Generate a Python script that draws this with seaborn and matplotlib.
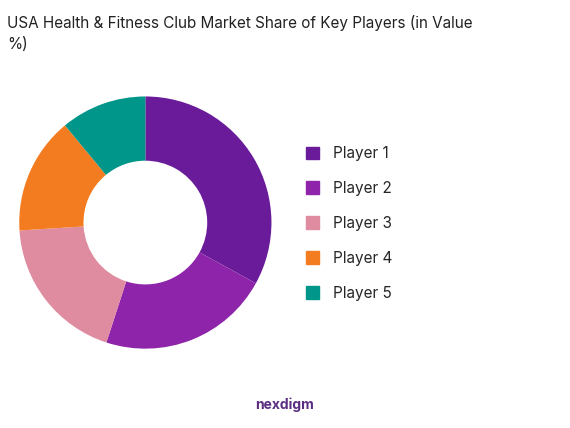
import matplotlib
matplotlib.use('Agg')
import matplotlib.pyplot as plt
import matplotlib.patches as mpatches
import seaborn as sns

players = ['Player 1', 'Player 2', 'Player 3', 'Player 4', 'Player 5']
shares = [33, 22, 19, 15, 11]
colors = ['#6A1B9A', '#8E24AA', '#E08CA0', '#F47C20', '#00968A']

sns.set_style('white')
plt.rcParams['font.family'] = ['Inter', 'DejaVu Sans']

fig = plt.figure(figsize=(5.70, 4.28), dpi=100)
ax = fig.add_axes([0.015, 0.16, 0.48, 0.64])
ax.pie(shares, colors=colors, startangle=90, counterclock=False,
       wedgeprops=dict(width=0.54, edgecolor='none'), radius=1.06)
ax.set_xlim(-1.15, 1.15)
ax.set_ylim(-1.15, 1.15)
ax.set_aspect('equal')

fig.text(0.012, 0.965, 'USA Health & Fitness Club Market Share of Key Players (in Value\n%)',
         fontsize=11, va='top', ha='left', color='#222222', linespacing=1.5)

handles = [mpatches.Patch(color=c, label=p) for p, c in zip(players, colors)]
fig.legend(handles=handles, loc='center left', bbox_to_anchor=(0.512, 0.478),
           frameon=False, fontsize=11, handlelength=0.9, handleheight=0.9,
           labelspacing=1.3, handletextpad=0.9)

fig.text(0.5, 0.055, 'nexdigm', fontsize=10, color='#5A2D82', ha='center', va='center',
         fontweight='bold')

fig.savefig('out.png', dpi=100)
